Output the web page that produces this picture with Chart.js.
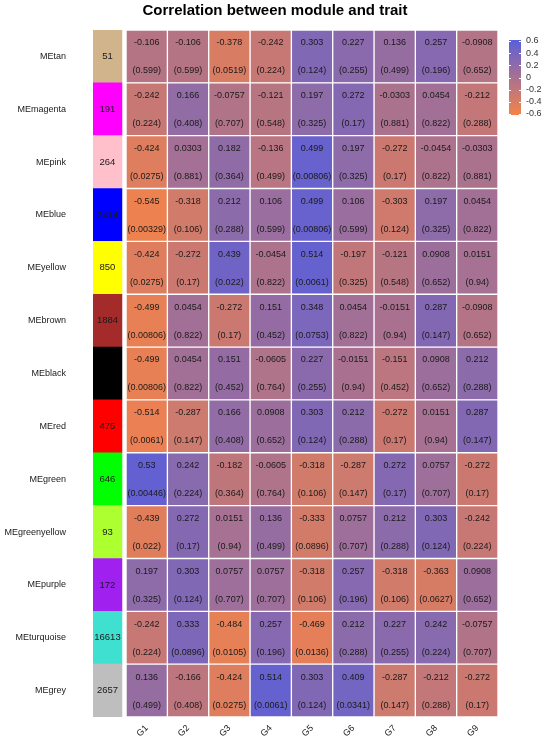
<!DOCTYPE html>
<html>
<head>
<meta charset="utf-8">
<script src="https://cdn.jsdelivr.net/npm/chart.js@4/dist/chart.umd.min.js"></script>
<style>
  html, body { margin: 0; padding: 0; background: #fff; }
</style>
</head>
<body>
<canvas id="heat" width="550" height="740"></canvas>
<script>
// modules (rows) and traits (columns)
const modules = ["MEtan", "MEmagenta", "MEpink", "MEblue", "MEyellow", "MEbrown", "MEblack",
  "MEred", "MEgreen", "MEgreenyellow", "MEpurple", "MEturquoise", "MEgrey"];
const moduleColors = ["#D2B48C", "#FF00FF", "#FFC0CB", "#0000FF", "#FFFF00", "#A52A2A", "#000000",
  "#FF0000", "#00FF00", "#ADFF2F", "#A020F0", "#40E0D0", "#BEBEBE"];
// gene counts per module (black one is not readable, black text on black)
const moduleSizes = [51, 191, 264, 2414, 850, 1884, null, 475, 646, 93, 172, 16613, 2657];
const traits = ["G1", "G2", "G3", "G4", "G5", "G6", "G7", "G8", "G9"];

// correlation, one row per module
const corr = [
  [-0.106, -0.106, -0.378, -0.242, 0.303, 0.227, 0.136, 0.257, -0.0908],
  [-0.242, 0.166, -0.0757, -0.121, 0.197, 0.272, -0.0303, 0.0454, -0.212],
  [-0.424, 0.0303, 0.182, -0.136, 0.499, 0.197, -0.272, -0.0454, -0.0303],
  [-0.545, -0.318, 0.212, 0.106, 0.499, 0.106, -0.303, 0.197, 0.0454],
  [-0.424, -0.272, 0.439, -0.0454, 0.514, -0.197, -0.121, 0.0908, 0.0151],
  [-0.499, 0.0454, -0.272, 0.151, 0.348, 0.0454, -0.0151, 0.287, -0.0908],
  [-0.499, 0.0454, 0.151, -0.0605, 0.227, -0.0151, -0.151, 0.0908, 0.212],
  [-0.514, -0.287, 0.166, 0.0908, 0.303, 0.212, -0.272, 0.0151, 0.287],
  [0.53, 0.242, -0.182, -0.0605, -0.318, -0.287, 0.272, 0.0757, -0.272],
  [-0.439, 0.272, 0.0151, 0.136, -0.333, 0.0757, 0.212, 0.303, -0.242],
  [0.197, 0.303, 0.0757, 0.0757, -0.318, 0.257, -0.318, -0.363, 0.0908],
  [-0.242, 0.333, -0.484, 0.257, -0.469, 0.212, 0.227, 0.242, -0.0757],
  [0.136, -0.166, -0.424, 0.514, 0.303, 0.409, -0.287, -0.212, -0.272]
];

// p values, same layout
const pvals = [
  [0.599, 0.599, 0.0519, 0.224, 0.124, 0.255, 0.499, 0.196, 0.652],
  [0.224, 0.408, 0.707, 0.548, 0.325, 0.17, 0.881, 0.822, 0.288],
  [0.0275, 0.881, 0.364, 0.499, 0.00806, 0.325, 0.17, 0.822, 0.881],
  [0.00329, 0.106, 0.288, 0.599, 0.00806, 0.599, 0.124, 0.325, 0.822],
  [0.0275, 0.17, 0.022, 0.822, 0.0061, 0.325, 0.548, 0.652, 0.94],
  [0.00806, 0.822, 0.17, 0.452, 0.0753, 0.822, 0.94, 0.147, 0.652],
  [0.00806, 0.822, 0.452, 0.764, 0.255, 0.94, 0.452, 0.652, 0.288],
  [0.0061, 0.147, 0.408, 0.652, 0.124, 0.288, 0.17, 0.94, 0.147],
  [0.00446, 0.224, 0.364, 0.764, 0.106, 0.147, 0.17, 0.707, 0.17],
  [0.022, 0.17, 0.94, 0.499, 0.0896, 0.707, 0.288, 0.124, 0.224],
  [0.325, 0.124, 0.707, 0.707, 0.106, 0.196, 0.106, 0.0627, 0.652],
  [0.224, 0.0896, 0.0105, 0.196, 0.0136, 0.288, 0.255, 0.224, 0.707],
  [0.499, 0.408, 0.0275, 0.0061, 0.124, 0.0341, 0.147, 0.288, 0.17]
];

// colour bar ticks
const legendTicks = [0.6, 0.4, 0.2, 0, -0.2, -0.4, -0.6];

const FONT = "'Liberation Sans', Arial, sans-serif";
Chart.defaults.font.family = FONT;

// two colour ramp, orange (low) -> slate blue (high)
const LOW = [245, 131, 73], HIGH = [90, 95, 217];
const LIM = 0.6;
function fillFor(v) {
  let t = (v + LIM) / (2 * LIM);
  t = Math.max(0, Math.min(1, t));
  const c = LOW.map((a, k) => Math.round(a + (HIGH[k] - a) * t));
  return `rgb(${c[0]},${c[1]},${c[2]})`;
}

// no extra label padding, the layout is fixed by afterFit
function noPad(s) {
  s.paddingTop = 0; s.paddingBottom = 0;
  s.paddingLeft = 0; s.paddingRight = 0;
}

// first column = module colour, then one dataset per trait
const datasets = [{
  label: "module",
  data: modules.map(() => [-0.8, -0.1]),
  backgroundColor: moduleColors,
  borderWidth: 0,
}];
traits.forEach((t, j) => {
  datasets.push({
    label: t,
    data: modules.map(() => [j, j + 1]),
    backgroundColor: modules.map((m, i) => fillFor(corr[i][j])),
    borderColor: "#ffffff",
    borderWidth: 1,
    borderSkipped: false,
  });
});

// cell texts
const cellText = {
  id: "cellText",
  afterDatasetsDraw(chart) {
    const ctx = chart.ctx;
    ctx.save();
    ctx.textAlign = "center";
    ctx.textBaseline = "middle";
    chart.data.datasets.forEach((ds, d) => {
      const meta = chart.getDatasetMeta(d);
      meta.data.forEach((el, i) => {
        const cx = (el.x + el.base) / 2;
        ctx.fillStyle = "#1a1a1a";
        if (d === 0) {
          if (moduleSizes[i] == null) return;
          ctx.font = "9.5px " + FONT;
          ctx.fillText(String(moduleSizes[i]), cx, el.y);
        } else {
          ctx.font = "9px " + FONT;
          ctx.fillText(String(corr[i][d - 1]), cx, el.y - 13.5);
          ctx.fillText("(" + String(pvals[i][d - 1]) + ")", cx, el.y + 14.5);
        }
      });
    });
    ctx.restore();
  }
};

// colour bar legend on the right
const colorBar = {
  id: "colorBar",
  afterDraw(chart) {
    const ctx = chart.ctx;
    const x0 = chart.chartArea.right + 11, w = 12;
    const yTop = 41, yBot = 114;
    const ys = v => yTop + (LIM - v) / (2 * LIM) * (yBot - yTop);
    ctx.save();
    const g = ctx.createLinearGradient(0, yTop - 1, 0, yBot + 1);
    g.addColorStop(0, fillFor(LIM));
    g.addColorStop(0.5, fillFor(0));
    g.addColorStop(1, fillFor(-LIM));
    ctx.fillStyle = g;
    ctx.fillRect(x0, yTop - 1, w, yBot - yTop + 2);
    ctx.strokeStyle = "#ffffff";
    ctx.lineWidth = 1;
    ctx.font = "9px " + FONT;
    ctx.fillStyle = "#333";
    ctx.textAlign = "left";
    ctx.textBaseline = "middle";
    legendTicks.forEach(v => {
      const y = Math.round(ys(v)) + 0.5;
      ctx.beginPath();
      ctx.moveTo(x0, y); ctx.lineTo(x0 + 2, y);
      ctx.moveTo(x0 + w - 2, y); ctx.lineTo(x0 + w, y);
      ctx.stroke();
      ctx.fillText(String(v), x0 + w + 5, ys(v));
    });
    ctx.restore();
  }
};

new Chart(document.getElementById("heat"), {
  type: "bar",
  data: { labels: modules, datasets },
  options: {
    indexAxis: "y",
    responsive: false,
    animation: false,
    layout: { padding: 0 },
    datasets: {
      bar: { grouped: false, categoryPercentage: 1, barPercentage: 1 }
    },
    scales: {
      y: {
        type: "category",
        grid: { display: false, drawTicks: false, tickLength: 0 },
        border: { display: false },
        ticks: { color: "#1a1a1a", font: { size: 9 }, padding: 27 },
        afterFit: s => { s.width = 93; noPad(s); },
      },
      x: {
        type: "linear",
        min: -0.8,
        max: 9,
        grid: { display: false, drawTicks: false, tickLength: 0 },
        border: { display: false },
        afterBuildTicks: s => { s.ticks = traits.map((t, j) => ({ value: j + 0.5 })); },
        ticks: {
          autoSkip: false,
          minRotation: 45,
          maxRotation: 45,
          color: "#1a1a1a",
          font: { size: 9 },
          padding: 6,
          callback: v => traits[Math.round(v - 0.5)],
        },
        afterFit: s => { s.height = 23; noPad(s); },
      },
      cb: {
        type: "linear",
        axis: "y",
        position: "right",
        grid: { display: false, drawTicks: false },
        border: { display: false },
        ticks: { display: false },
        afterFit: s => { s.width = 52; noPad(s); },
      }
    },
    plugins: {
      legend: { display: false },
      tooltip: { enabled: false },
      title: {
        display: true,
        text: "Correlation between module and trait",
        color: "#000",
        font: { size: 15, weight: "bold" },
        padding: { top: 2, bottom: 10 },
      }
    }
  },
  plugins: [cellText, colorBar]
});
</script>
</body>
</html>
